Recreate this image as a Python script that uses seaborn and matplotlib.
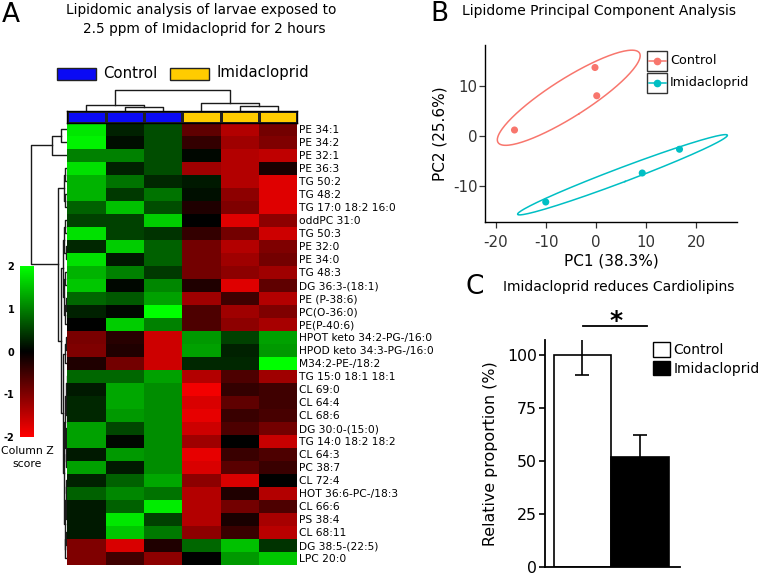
import numpy as np
import pandas as pd
import seaborn as sns
import matplotlib
matplotlib.use('Agg')
import matplotlib.pyplot as plt
from matplotlib.colors import LinearSegmentedColormap, ListedColormap
from matplotlib.patches import Rectangle, Patch
from matplotlib.lines import Line2D

# ---------------- data ----------------
lipids = ['PE 34:1', 'PE 34:2', 'PE 32:1', 'PE 36:3', 'TG 50:2', 'TG 48:2',
          'TG 17:0 18:2 16:0', 'oddPC 31:0', 'TG 50:3', 'PE 32:0', 'PE 34:0',
          'TG 48:3', 'DG 36:3-(18:1)', 'PE (P-38:6)', 'PC(O-36:0)', 'PE(P-40:6)',
          'HPOT keto 34:2-PG-/16:0', 'HPOD keto 34:3-PG-/16:0', 'M34:2-PE-/18:2',
          'TG 15:0 18:1 18:1', 'CL 69:0', 'CL 64:4', 'CL 68:6', 'DG 30:0-(15:0)',
          'TG 14:0 18:2 18:2', 'CL 64:3', 'PC 38:7', 'CL 72:4', 'HOT 36:6-PC-/18:3',
          'CL 66:6', 'PS 38:4', 'CL 68:11', 'DG 38:5-(22:5)', 'LPC 20:0']
samples = ['Control 1', 'Control 2', 'Control 3', 'Imidacloprid 1', 'Imidacloprid 2', 'Imidacloprid 3']
sample_group = [0, 0, 0, 1, 1, 1]

zscore = [
    [1.8, 0.25, 0.6, -0.75, -1.4, -0.9],
    [1.9, 0.1, 0.6, -0.4, -1.25, -1.0],
    [1.0, 1.0, 0.6, 0.05, -1.4, -1.5],
    [1.75, 0.25, 0.6, -1.25, -1.4, -0.2],
    [1.4, 0.9, 0.3, 0.2, -1.4, -1.75],
    [1.4, 0.45, 0.9, 0.12, -1.1, -1.75],
    [0.75, 1.5, 0.6, -0.25, -1.0, -1.75],
    [0.5, 0.5, 1.6, 0.0, -1.75, -1.1],
    [1.75, 0.5, 0.4, -0.4, -0.9, -1.6],
    [0.3, 1.6, 0.75, -0.9, -1.4, -1.0],
    [1.75, 0.2, 0.75, -0.9, -1.25, -0.9],
    [1.4, 1.0, 0.45, -0.9, -1.1, -1.25],
    [1.55, 0.05, 1.05, -0.25, -1.75, -0.75],
    [0.8, 0.7, 1.25, -1.25, -0.5, -1.4],
    [0.25, 0.05, 2.0, -0.6, -1.25, -1.0],
    [0.0, 1.6, 1.0, -0.6, -1.1, -1.3],
    [-0.95, -0.3, -1.6, 1.2, 0.5, 1.25],
    [-1.0, -0.25, -1.6, 1.25, 0.25, 1.2],
    [-0.25, -0.9, -1.6, 0.3, 0.3, 2.0],
    [0.8, 0.8, 1.25, -1.4, -0.6, -1.25],
    [0.2, 1.3, 1.1, -1.9, -0.4, -0.5],
    [0.3, 1.3, 1.1, -1.7, -0.75, -0.5],
    [0.3, 1.2, 1.1, -1.8, -0.45, -0.55],
    [1.25, 0.55, 1.1, -1.6, -0.6, -0.9],
    [1.25, 0.05, 1.1, -1.25, 0.0, -1.55],
    [0.2, 1.2, 1.1, -1.8, -0.45, -0.6],
    [1.25, 0.2, 1.1, -1.7, -0.7, -0.45],
    [0.25, 0.75, 1.3, -1.1, -1.7, 0.0],
    [0.75, 1.05, 0.9, -1.4, -0.25, -1.4],
    [0.2, 0.75, 1.85, -1.4, -0.9, -0.6],
    [0.2, 1.8, 0.5, -1.4, -0.2, -1.3],
    [0.2, 1.55, 0.95, -1.1, -0.45, -1.45],
    [-1.0, -1.7, -0.25, 0.8, 1.5, 0.4],
    [-1.0, -0.5, -1.1, 0.0, 1.2, 1.55],
]

# dendrograms: (merge height, left, right); leaves are row / column indices
row_tree = (36.6,
            (15.6, (6.6, 0, 1), 2),
            (9.0,
             (3.5, (2.5, 3, 4), (2.0, 5, 6)),
             (6.3,
              (4.5, (3.0, (2.0, 7, 8), (1.8, 9, 10)),
                    (3.5, (2.0, 11, 12), (2.5, (1.5, 13, 14), 15))),
              (4.8, (2.2, (1.2, 16, 17), 18),
                    (3.6, (2.4, (1.4, (0.8, 19, 20), (0.9, 21, 22)),
                                (1.6, (1.0, 23, 24), (1.1, 25, 26))),
                          (2.8, (1.8, (1.2, 27, 28), (1.3, 29, 30)),
                                (2.0, (1.0, 31, 32), 33)))))))
col_tree = (21.0, (6.0, 0, (4.0, 1, 2)), (7.7, 3, (5.0, 4, 5)))

# PCA scores
pc_group = ['Control'] * 3 + ['Imidacloprid'] * 3
pc1 = [-16.3, -0.2, 0.15, -10.05, 9.25, 16.7]
pc2 = [1.2, 13.7, 8.05, -13.2, -7.4, -2.65]

# cardiolipins
cl_group = ['Control', 'Imidacloprid']
cl_mean = [100, 52]
cl_err = [9.6, 10.0]

# ---------------- figure ----------------
plt.rcParams['font.family'] = ['DejaVu Sans']
plt.rcParams['axes.unicode_minus'] = False
W, H = 762, 576
fig = plt.figure(figsize=(W / 100, H / 100), dpi=100)


def px_axes(x0, y0, x1, y1):
    return fig.add_axes([x0 / W, 1 - y1 / H, (x1 - x0) / W, (y1 - y0) / H])


def draw_tree(ax, node, horizontal):
    if isinstance(node, int):
        return node + 0.5, 0.0
    h, left, right = node
    p1, h1 = draw_tree(ax, left, horizontal)
    p2, h2 = draw_tree(ax, right, horizontal)
    hs = [h1, h, h, h2]
    ps = [p1, p1, p2, p2]
    if horizontal:
        ax.plot(hs, ps, color='#1a1a1a', lw=1.0)
    else:
        ax.plot(ps, hs, color='#1a1a1a', lw=1.0)
    return (p1 + p2) / 2, h


# ---- panel A ----
df = pd.DataFrame(zscore, index=lipids, columns=samples)
cmap = LinearSegmentedColormap.from_list('rbg', ['#FF0000', '#000000', '#00FF00'])
ax_hm = px_axes(67.3, 122.7, 297.3, 565)
cax = px_axes(20, 266, 34, 437)
sns.heatmap(df, ax=ax_hm, cmap=cmap, vmin=-2, vmax=2, cbar_ax=cax,
            xticklabels=False, yticklabels=True,
            cbar_kws={'ticks': [-2, -1, 0, 1, 2]})
ax_hm.yaxis.tick_right()
ax_hm.set_yticklabels(lipids, rotation=0, fontsize=7.7)
ax_hm.tick_params(axis='y', length=0, pad=1.5)
ax_hm.set_xlabel('')
ax_hm.set_ylabel('')
cbar = ax_hm.collections[0].colorbar
cbar.outline.set_visible(False)
cax.yaxis.set_ticks_position('left')
cax.tick_params(length=0, labelsize=7, pad=4)
for t in cax.get_yticklabels():
    t.set_fontweight('bold')
cax.text(0.5, -0.055, 'Column Z\nscore', transform=cax.transAxes, ha='center', va='top',
         fontsize=7.8, linespacing=1.3)

ax_cb = px_axes(67.3, 110.7, 297.3, 122.7)
sns.heatmap(np.array([sample_group]), ax=ax_cb, cmap=ListedColormap(['#0A0AF5', '#FFCC00']),
            cbar=False, linewidths=1.0, linecolor='#222222', xticklabels=False, yticklabels=False)
for s in ax_cb.spines.values():
    s.set_visible(True)
    s.set_linewidth(1.0)

ax_cd = px_axes(67.3, 85, 297.3, 110.7)
draw_tree(ax_cd, col_tree, horizontal=False)
ax_cd.set_xlim(0, 6)
ax_cd.set_ylim(0, 25.7)
ax_cd.axis('off')

ax_rd = px_axes(25, 122.7, 67.3, 565)
draw_tree(ax_rd, row_tree, horizontal=True)
ax_rd.set_ylim(34, 0)
ax_rd.set_xlim(42.3, 0)
ax_rd.axis('off')

fig.text(2 / W, 1 - 2 / H, 'A', fontsize=19, ha='left', va='top')
fig.text(201 / W, 1 - 3 / H, 'Lipidomic analysis of larvae exposed to', fontsize=9.8, ha='center', va='top')
fig.text(204 / W, 1 - 22 / H, '2.5 ppm of Imidacloprid for 2 hours', fontsize=9.8, ha='center', va='top')
for x0, color, label in [(57, '#0A0AF5', 'Control'), (170, '#FFCC00', 'Imidacloprid')]:
    fig.patches.append(Rectangle((x0 / W, 1 - 80 / H), 39 / W, 12 / H, transform=fig.transFigure,
                                 facecolor=color, edgecolor='#222222', lw=1.0))
    fig.text((x0 + 46) / W, 1 - 73 / H, label, fontsize=10.7, ha='left', va='center')

# ---- panel B ----
pal = {'Control': '#F8766D', 'Imidacloprid': '#00BFC4'}
pca = pd.DataFrame({'PC1': pc1, 'PC2': pc2, 'group': pc_group})
axB = px_axes(485, 45, 737, 222)
sns.scatterplot(data=pca, x='PC1', y='PC2', hue='group', palette=pal, s=26,
                edgecolor='none', legend=False, ax=axB)
theta = np.linspace(0, 2 * np.pi, 200)
for g, sub in pca.groupby('group'):
    pts = sub[['PC1', 'PC2']].to_numpy()
    center = pts.mean(axis=0)
    vals, vecs = np.linalg.eigh(np.cov(pts.T))
    circle = np.vstack([np.cos(theta), np.sin(theta)])
    ell = (vecs @ (np.sqrt(vals)[:, None] * circle)) * 1.52
    axB.plot(center[0] + ell[0], center[1] + ell[1], color=pal[g], lw=1.1)
axB.set_xlim(-22.2, 28.2)
axB.set_ylim(-17.2, 18.2)
axB.set_xticks([-20, -10, 0, 10, 20])
axB.set_yticks([-10, 0, 10])
sns.despine(ax=axB)
for s in ['left', 'bottom']:
    axB.spines[s].set_linewidth(1.0)
    axB.spines[s].set_color('black')
axB.tick_params(labelsize=10.8, length=4, width=0.9, color='#333333', labelcolor='#333333')
axB.tick_params(axis='x', pad=5)
axB.tick_params(axis='y', pad=1.5)
axB.set_xlabel('PC1 (38.3%)', fontsize=11, labelpad=3)
axB.set_ylabel('PC2 (25.6%)', fontsize=11, labelpad=4)
for i, g in enumerate(['Control', 'Imidacloprid']):
    y0 = 50.7 + 22 * i
    yc = 1 - (y0 + 10 - 45) / 177
    axB.add_artist(Rectangle(((647 - 485) / 252, 1 - (y0 + 20 - 45) / 177), 20 / 252, 20 / 177,
                             transform=axB.transAxes, facecolor='none', edgecolor='#333333',
                             lw=1.0, clip_on=False))
    axB.add_line(Line2D([(648.5 - 485) / 252, (665.5 - 485) / 252], [yc, yc],
                        transform=axB.transAxes, color=pal[g], lw=1.1, clip_on=False))
    axB.add_line(Line2D([(657 - 485) / 252], [yc], transform=axB.transAxes,
                        color=pal[g], marker='o', markersize=4.5, clip_on=False))
    axB.text((670 - 485) / 252, yc, g, transform=axB.transAxes,
             fontsize=9.2, ha='left', va='center')
fig.text(430 / W, 1 - 1 / H, 'B', fontsize=19, ha='left', va='top')
fig.text(462 / W, 1 - 4 / H, 'Lipidome Principal Component Analysis', fontsize=10, ha='left', va='top')

# ---- panel C ----
axC = px_axes(545, 340, 680, 567)
sns.barplot(x=cl_group, y=cl_mean, hue=cl_group, palette=['white', 'black'], edgecolor='black',
            linewidth=1.2, width=1.0, legend=False, errorbar=None, ax=axC)
axC.errorbar([0, 1], cl_mean, yerr=cl_err, fmt='none', ecolor='black', elinewidth=1.2,
             capsize=5, capthick=1.2, zorder=5)
axC.set_xlim(-0.65, 1.7)
axC.set_ylim(0, 107)
axC.set_yticks([0, 25, 50, 75, 100])
axC.set_xticks([])
sns.despine(ax=axC)
for s in ['left', 'bottom']:
    axC.spines[s].set_linewidth(1.3)
axC.tick_params(axis='y', labelsize=11.3, length=4, width=1.2, pad=2)
axC.set_ylabel('Relative proportion (%)', fontsize=11.4, labelpad=6)
axC.plot([0.02, 1.12], [113.8, 113.8], color='black', lw=1.3, clip_on=False)
axC.text(0.59, 112.8, '*', fontsize=18, fontweight='bold', ha='center', va='baseline')
axC.legend(handles=[Patch(facecolor='white', edgecolor='black'), Patch(facecolor='black', edgecolor='black')],
           labels=cl_group, loc='upper left', bbox_to_anchor=(0.80, 0.99), frameon=False,
           fontsize=10, handlelength=1.25, handleheight=1.25, handletextpad=0.2,
           labelspacing=0.25, borderpad=0, borderaxespad=0)
fig.text(466 / W, 1 - 274 / H, 'C', fontsize=19, ha='left', va='top')
fig.text(503 / W, 1 - 280 / H, 'Imidacloprid reduces Cardiolipins', fontsize=10, ha='left', va='top')

fig.savefig('out.png', dpi=100)
